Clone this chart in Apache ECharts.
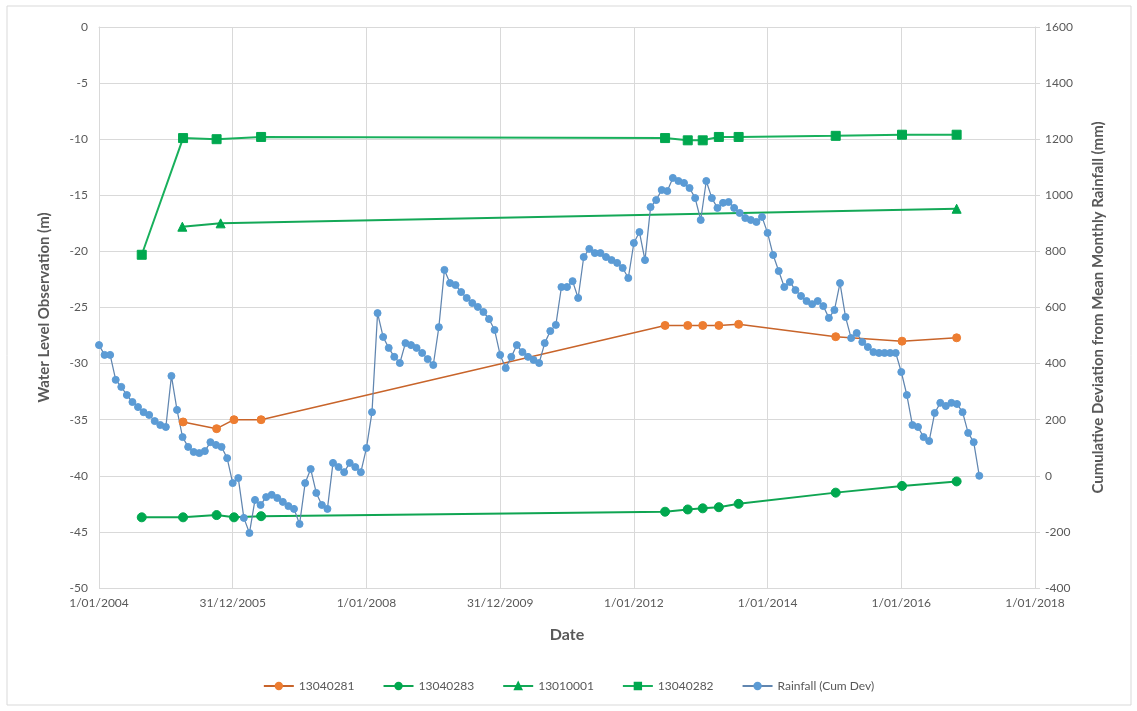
<!DOCTYPE html>
<html>
<head>
<meta charset="utf-8">
<title>Water Level Observation vs Rainfall</title>
<script src="https://cdn.jsdelivr.net/npm/echarts@6/dist/echarts.min.js"></script>
<style>
  html, body { margin: 0; padding: 0; background: #ffffff; }
  #chart { width: 1137px; height: 711px; }
</style>
</head>
<body>
<div id="chart"></div>
<script>
// ---- Date axis tick labels (two-year steps) ----
const xTickLabels = ['1/01/2004', '31/12/2005', '1/01/2008', '31/12/2009',
                     '1/01/2012', '1/01/2014', '1/01/2016', '1/01/2018'];

// ---- Bore observations: water level (m) ----
const dates13040281 = ['2005-04-05', '2005-10-05', '2006-01-08', '2006-06-05', '2012-06-20', '2012-10-22',
                       '2013-01-12', '2013-04-10', '2013-07-27', '2015-01-08', '2016-01-05', '2016-10-30'];
const level13040281 = [-35.2, -35.8, -35.0, -35.0, -26.6, -26.6, -26.6, -26.6, -26.5, -27.6, -28.0, -27.7];

const dates13040283 = ['2004-08-22', '2005-04-05', '2005-10-05', '2006-01-08', '2006-06-05', '2012-06-20',
                       '2012-10-22', '2013-01-12', '2013-04-10', '2013-07-27', '2015-01-08', '2016-01-05', '2016-10-30'];
const level13040283 = [-43.7, -43.7, -43.5, -43.7, -43.6, -43.2, -43.0, -42.9, -42.8, -42.5, -41.5, -40.9, -40.5];

const dates13010001 = ['2005-04-01', '2005-10-27', '2016-10-30'];
const level13010001 = [-17.8, -17.5, -16.2];

const dates13040282 = ['2004-08-22', '2005-04-05', '2005-10-05', '2006-06-05', '2012-06-20', '2012-10-22',
                       '2013-01-12', '2013-04-10', '2013-07-27', '2015-01-08', '2016-01-05', '2016-10-30'];
const level13040282 = [-20.3, -9.9, -10.0, -9.8, -9.9, -10.1, -10.1, -9.8, -9.8, -9.7, -9.6, -9.6];

// ---- Monthly cumulative deviation from mean monthly rainfall (mm), from Jan 2004 ----
const rainfallStart = { year: 2004, month: 0 };
const rainfallCumDev = [
  466, 431, 431, 342, 317, 288, 263, 245, 227, 217, 195, 181,       // 2004
  174, 356, 235, 138, 103, 85, 81, 88, 120, 110, 103, 63,           // 2005
  -26, -8, -150, -204, -86, -104, -76, -68, -79, -93, -108, -118,   // 2006
  -172, -26, 24, -61, -104, -118, 46, 31, 13, 46, 31, 13,           // 2007
  99, 227, 580, 495, 456, 424, 402, 473, 466, 456, 438, 416,        // 2008
  395, 530, 734, 687, 680, 655, 634, 616, 602, 584, 559, 520,       // 2009
  431, 384, 424, 466, 441, 424, 413, 402, 473, 516, 538, 673,       // 2010
  673, 694, 634, 780, 809, 794, 794, 780, 769, 759, 741, 705,       // 2011
  830, 869, 769, 958, 983, 1019, 1015, 1062, 1051, 1044, 1026, 990, // 2012
  912, 1051, 990, 955, 973, 976, 955, 937, 919, 912, 905, 923,      // 2013
  866, 787, 730, 673, 691, 662, 641, 623, 612, 623, 605, 563,       // 2014
  591, 687, 566, 491, 509, 477, 459, 441, 438, 438, 438, 438,       // 2015
  370, 288, 181, 174, 138, 124, 224, 260, 249, 260, 256, 227,       // 2016
  153, 120, 0                                                       // 2017
];

// Convert an ISO date string to a fractional year for the value-type date axis
function toYear(iso) {
  const [y, m, d] = iso.split('-').map(Number);
  const start = Date.UTC(y, 0, 1);
  const end = Date.UTC(y + 1, 0, 1);
  return y + (Date.UTC(y, m - 1, d) - start) / (end - start);
}
function pairs(dates, values) {
  return dates.map((d, i) => [toYear(d), values[i]]);
}
const rainfallData = rainfallCumDev.map((v, i) =>
  [rainfallStart.year + (rainfallStart.month + i) / 12, v]);

const FONT = 'Lato, "Open Sans", sans-serif';
const TXT = '#595959';
const GRID = '#d9d9d9';

const chart = echarts.init(document.getElementById('chart'), null, { renderer: 'canvas' });

function lineSeries(name, data, color, lineColor, symbol, size, width, yIndex) {
  return {
    name: name,
    type: 'line',
    data: data,
    yAxisIndex: yIndex,
    symbol: symbol,
    symbolSize: size,
    showAllSymbol: true,
    lineStyle: { color: lineColor, width: width },
    itemStyle: { color: color, borderColor: color, borderWidth: 1 },
    emphasis: { disabled: true },
    animation: false
  };
}

chart.setOption({
  backgroundColor: '#ffffff',
  animation: false,
  textStyle: { fontFamily: FONT },
  graphic: [{
    type: 'rect',
    shape: { x: 7, y: 6, width: 1124, height: 699 },
    style: { fill: 'none', stroke: GRID, lineWidth: 1 },
    silent: true,
    z: -10
  }],
  grid: { left: 99, right: 102, top: 27, bottom: 123, containLabel: false },
  legend: {
    bottom: 14,
    left: 'center',
    itemWidth: 30,
    itemHeight: 8,
    itemGap: 28,
    textStyle: { color: TXT, fontSize: 12, fontFamily: FONT },
    data: ['13040281', '13040283', '13010001', '13040282', 'Rainfall (Cum Dev)']
  },
  xAxis: {
    type: 'value',
    min: 2004,
    max: 2018,
    interval: 2,
    name: 'Date',
    nameLocation: 'middle',
    nameGap: 39,
    nameTextStyle: { color: TXT, fontSize: 16, fontWeight: 'bold', fontFamily: FONT },
    axisLine: { show: true, lineStyle: { color: GRID, width: 1 } },
    axisTick: { show: false },
    axisLabel: {
      color: TXT, fontSize: 12, margin: 9, fontFamily: FONT,
      showMinLabel: true, showMaxLabel: true,
      formatter: v => xTickLabels[Math.round((v - 2004) / 2)] || ''
    },
    splitLine: { show: true, lineStyle: { color: GRID, width: 1 } }
  },
  yAxis: [{
    type: 'value',
    min: -50,
    max: 0,
    interval: 5,
    position: 'left',
    name: 'Water Level Observation (m)',
    nameLocation: 'middle',
    nameGap: 47,
    nameRotate: 90,
    nameTextStyle: { color: TXT, fontSize: 15, fontWeight: 'bold', fontFamily: FONT },
    axisLine: { show: true, lineStyle: { color: GRID, width: 1 } },
    axisTick: { show: false },
    axisLabel: { color: TXT, fontSize: 12, margin: 11, fontFamily: FONT, formatter: v => String(v) },
    splitLine: { show: true, lineStyle: { color: GRID, width: 1 } }
  }, {
    type: 'value',
    min: -400,
    max: 1600,
    interval: 200,
    position: 'right',
    name: 'Cumulative Deviation from Mean Monthly Rainfall (mm)',
    nameLocation: 'middle',
    nameGap: 56,
    nameRotate: 90,
    nameTextStyle: { color: TXT, fontSize: 15, fontWeight: 'bold', fontFamily: FONT },
    axisLine: { show: true, lineStyle: { color: GRID, width: 1 } },
    axisTick: { show: true, length: 5, lineStyle: { color: GRID } },
    axisLabel: { color: TXT, fontSize: 12, margin: 10, fontFamily: FONT, formatter: v => String(v) },
    splitLine: { show: false }
  }],
  series: [
    lineSeries('13040281', pairs(dates13040281, level13040281), '#ED7D31', '#C8642A', 'circle', 8, 1.5, 0),
    lineSeries('13040283', pairs(dates13040283, level13040283), '#00A84F', '#0FA552', 'circle', 9, 2, 0),
    lineSeries('13010001', pairs(dates13010001, level13010001), '#00A84F', '#14A857', 'triangle', 9, 2, 0),
    lineSeries('13040282', pairs(dates13040282, level13040282), '#00A84F', '#18B05C', 'rect', 9, 2, 0),
    lineSeries('Rainfall (Cum Dev)', rainfallData, '#5B9BD5', '#6186B0', 'circle', 7, 1.25, 1)
  ]
});
</script>
</body>
</html>
